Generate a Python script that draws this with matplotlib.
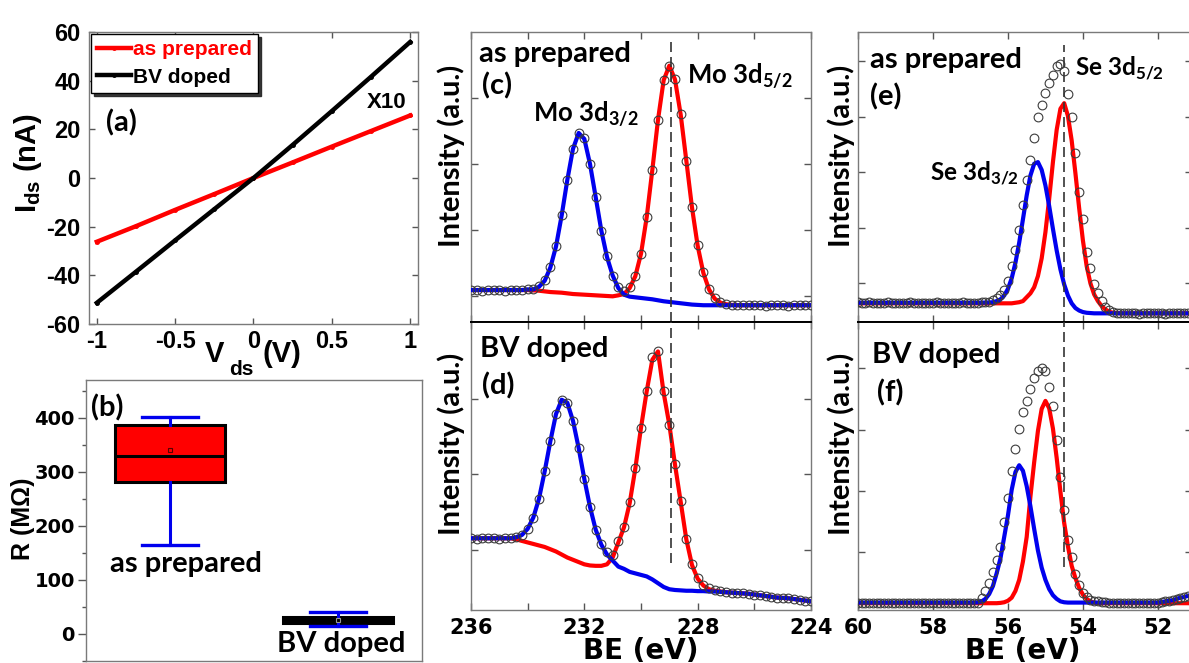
import numpy as np
import matplotlib
matplotlib.use('Agg')
import matplotlib.pyplot as plt
from matplotlib.ticker import MultipleLocator

plt.rcParams['font.family'] = ['Liberation Sans', 'DejaVu Sans']
plt.rcParams['font.weight'] = 'bold'
plt.rcParams['axes.unicode_minus'] = False
plt.rcParams['mathtext.fontset'] = 'custom'
plt.rcParams['mathtext.bf'] = 'Liberation Sans:bold'
plt.rcParams['mathtext.rm'] = 'Lato:bold'

# ---- (a) I-V curves (as prepared shown x10) ----
v_ds = [-1, -0.75, -0.5, -0.25, 0, 0.25, 0.5, 0.75, 1]
i_prepared = [-26.2, -19.8, -13.1, -6.6, 0.0, 6.4, 12.9, 19.3, 25.7]
i_doped = [-51.3, -38.5, -25.6, -12.8, 0.0, 13.6, 27.5, 41.6, 55.9]
v_ticks = [-1, -0.5, 0, 0.5, 1]
v_ticklabels = ['-1', '-0.5', '0', '0.5', '1']
i_ticks = [-60, -40, -20, 0, 20, 40, 60]

# ---- (b) resistance box plot ----
samples = ['as prepared', 'BV doped']
r_q1 = [281, 21]
r_med = [330, 26]
r_q3 = [387, 31]
r_low = [165, 15]
r_high = [402, 41]
r_mean = [341, 25]
r_ticks = [0, 100, 200, 300, 400]

# ---- (c),(d) Mo 3d spectra, BE grid 236 -> 224 eV ----
be_mo = np.round(np.arange(236.0, 223.9, -0.2), 1)
mo_ticks = [236, 234, 232, 230, 228, 226, 224]
mo_ticklabels = ['236', '', '232', '', '228', '', '224']

mo_c_data = [1.09, 1.09, 1.08, 1.09, 1.09, 1.09, 1.08, 1.09, 1.09, 1.09,
             1.10, 1.11, 1.15, 1.24, 1.44, 1.76, 2.22, 2.76, 3.22, 3.47,
             3.39, 3.00, 2.50, 1.99, 1.60, 1.31, 1.13, 1.07, 1.14, 1.31,
             1.64, 2.19, 2.91, 3.67, 4.27, 4.49, 4.29, 3.76, 3.05, 2.35,
             1.77, 1.36, 1.11, 0.97, 0.91, 0.88, 0.87, 0.86, 0.86, 0.86,
             0.86, 0.86, 0.85, 0.86, 0.86, 0.86, 0.85, 0.86, 0.86, 0.86,
             0.86]
mo_c_blue = [1.09, 1.09, 1.09, 1.09, 1.09, 1.09, 1.09, 1.09, 1.09, 1.09,
             1.10, 1.10, 1.14, 1.23, 1.43, 1.75, 2.22, 2.76, 3.23, 3.47,
             3.38, 3.00, 2.50, 1.99, 1.59, 1.31, 1.12, 1.02, 0.99, 0.98,
             0.97, 0.96, 0.95, 0.935, 0.92, 0.91, 0.90, 0.89, 0.88, 0.87,
             0.865, 0.86, 0.86, 0.86, 0.86, 0.86, 0.86, 0.86, 0.86, 0.86,
             0.86, 0.86, 0.86, 0.86, 0.86, 0.86, 0.86, 0.86, 0.86, 0.86,
             0.86]
mo_c_red = [1.09, 1.09, 1.09, 1.09, 1.09, 1.09, 1.09, 1.09, 1.09, 1.09,
            1.09, 1.085, 1.08, 1.07, 1.06, 1.055, 1.05, 1.04, 1.03, 1.025,
            1.02, 1.015, 1.01, 1.005, 1.00, 0.995, 1.01, 1.03, 1.12, 1.30,
            1.64, 2.19, 2.91, 3.67, 4.27, 4.49, 4.28, 3.75, 3.05, 2.34,
            1.76, 1.35, 1.10, 0.96, 0.90, 0.875, 0.865, 0.86, 0.86, 0.86,
            0.86, 0.86, 0.86, 0.86, 0.86, 0.86, 0.86, 0.86, 0.86, 0.86,
            0.86]

mo_d_data = [1.155, 1.15, 1.155, 1.16, 1.155, 1.15, 1.155, 1.16, 1.17, 1.20,
             1.28, 1.43, 1.68, 2.04, 2.44, 2.80, 2.99, 2.95, 2.71, 2.35,
             1.94, 1.57, 1.27, 1.08, 0.97, 0.94, 1.12, 1.31, 1.63, 2.08,
             2.62, 3.10, 3.55, 3.64, 3.10, 2.66, 2.14, 1.65, 1.15, 0.82,
             0.63, 0.54, 0.49, 0.47, 0.455, 0.445, 0.435, 0.43, 0.425, 0.42,
             0.41, 0.40, 0.39, 0.38, 0.37, 0.365, 0.36, 0.35, 0.34, 0.33,
             0.32]
mo_d_blue = [1.155, 1.155, 1.155, 1.155, 1.155, 1.155, 1.155, 1.155, 1.17, 1.20,
             1.28, 1.43, 1.68, 2.04, 2.44, 2.80, 2.99, 2.95, 2.71, 2.35,
             1.94, 1.57, 1.27, 1.07, 0.94, 0.86, 0.78, 0.75, 0.71, 0.69,
             0.67, 0.65, 0.61, 0.56, 0.51, 0.48, 0.47, 0.465, 0.46, 0.46,
             0.455, 0.455, 0.45, 0.45, 0.445, 0.44, 0.435, 0.43, 0.425, 0.42,
             0.41, 0.40, 0.39, 0.38, 0.37, 0.365, 0.36, 0.35, 0.34, 0.33,
             0.32]
mo_d_red = [1.155, 1.155, 1.155, 1.155, 1.155, 1.155, 1.155, 1.155, 1.14, 1.12,
            1.10, 1.08, 1.06, 1.04, 1.01, 0.98, 0.94, 0.90, 0.87, 0.84,
            0.81, 0.795, 0.79, 0.79, 0.81, 0.90, 1.10, 1.30, 1.62, 2.08,
            2.62, 3.10, 3.52, 3.63, 3.08, 2.66, 2.13, 1.64, 1.14, 0.80,
            0.62, 0.53, 0.48, 0.46, 0.45, 0.44, 0.435, 0.43, 0.425, 0.42,
            0.41, 0.40, 0.39, 0.38, 0.37, 0.365, 0.36, 0.35, 0.34, 0.33,
            0.32]
mo_line = 228.95

# ---- (e),(f) Se 3d spectra, BE grid 60 -> 51.2 eV ----
be_se = np.round(np.arange(60.0, 51.15, -0.1), 1)
se_ticks = [60, 58, 56, 54, 52]
se_ticklabels = ['60', '58', '56', '54', '52']

se_e_data = [0.66, 0.65, 0.65, 0.66, 0.65, 0.64, 0.65, 0.65, 0.66, 0.65,
             0.65, 0.64, 0.65, 0.65, 0.66, 0.65, 0.65, 0.64, 0.65, 0.65,
             0.65, 0.66, 0.65, 0.65, 0.64, 0.65, 0.65, 0.65, 0.66, 0.65,
             0.65, 0.65, 0.65, 0.66, 0.66, 0.67, 0.70, 0.74, 0.79, 0.88,
             1.04, 1.32, 1.60, 1.95, 2.40, 2.86, 3.21, 3.62, 3.99, 4.21,
             4.43, 4.61, 4.74, 4.90, 4.94, 4.81, 4.40, 4.00, 3.35, 2.65,
             2.15, 1.56, 1.27, 0.99, 0.82, 0.68, 0.58, 0.52, 0.49, 0.47,
             0.46, 0.46, 0.47, 0.46, 0.46, 0.45, 0.46, 0.46, 0.46, 0.47,
             0.46, 0.46, 0.45, 0.46, 0.46, 0.46, 0.47, 0.46, 0.46]
se_e_blue = [0.65, 0.65, 0.65, 0.65, 0.65, 0.65, 0.65, 0.65, 0.65, 0.65,
             0.65, 0.65, 0.65, 0.65, 0.65, 0.65, 0.65, 0.65, 0.65, 0.65,
             0.65, 0.65, 0.65, 0.65, 0.65, 0.65, 0.65, 0.65, 0.65, 0.65,
             0.65, 0.65, 0.65, 0.65, 0.655, 0.655, 0.66, 0.68, 0.71, 0.78,
             0.90, 1.09, 1.37, 1.73, 2.15, 2.58, 2.94, 3.15, 3.18, 3.04,
             2.76, 2.39, 1.98, 1.59, 1.25, 0.98, 0.78, 0.64, 0.555, 0.51,
             0.483, 0.47, 0.465, 0.46, 0.46, 0.46, 0.46, 0.46, 0.46, 0.46,
             0.46, 0.46, 0.46, 0.46, 0.46, 0.46, 0.46, 0.46, 0.46, 0.46,
             0.46, 0.46, 0.46, 0.46, 0.46, 0.46, 0.46, 0.46, 0.46]
se_e_red = [0.64, 0.64, 0.64, 0.64, 0.64, 0.64, 0.64, 0.64, 0.64, 0.64,
            0.64, 0.64, 0.64, 0.64, 0.64, 0.64, 0.64, 0.64, 0.64, 0.64,
            0.64, 0.64, 0.64, 0.64, 0.64, 0.64, 0.64, 0.64, 0.64, 0.64,
            0.64, 0.64, 0.64, 0.64, 0.64, 0.64, 0.64, 0.64, 0.64, 0.64,
            0.64, 0.64, 0.65, 0.66, 0.68, 0.75, 0.82, 0.93, 1.13, 1.45,
            1.92, 2.52, 3.18, 3.76, 4.14, 4.24, 4.01, 3.57, 2.98, 2.35,
            1.77, 1.31, 1.00, 0.80, 0.68, 0.59, 0.53, 0.49, 0.47, 0.465,
            0.46, 0.46, 0.46, 0.46, 0.46, 0.46, 0.46, 0.46, 0.46, 0.46,
            0.46, 0.46, 0.46, 0.46, 0.46, 0.46, 0.46, 0.46, 0.46]

se_f_data = [0.18, 0.17, 0.18, 0.18, 0.17, 0.18, 0.18, 0.17, 0.18, 0.18,
             0.17, 0.18, 0.18, 0.18, 0.17, 0.18, 0.18, 0.18, 0.17, 0.18,
             0.18, 0.18, 0.17, 0.18, 0.18, 0.18, 0.17, 0.18, 0.18, 0.18,
             0.18, 0.18, 0.18, 0.25, 0.37, 0.50, 0.68, 0.87, 1.09, 1.49,
             1.88, 2.33, 2.68, 3.01, 3.29, 3.47, 3.67, 3.84, 3.96, 4.01,
             3.96, 3.69, 3.38, 2.83, 2.23, 1.69, 1.20, 0.93, 0.64, 0.47,
             0.34, 0.27, 0.23, 0.21, 0.20, 0.19, 0.19, 0.18, 0.18, 0.18,
             0.18, 0.17, 0.18, 0.18, 0.18, 0.17, 0.18, 0.18, 0.18, 0.18,
             0.18, 0.19, 0.20, 0.21, 0.22, 0.24, 0.26, 0.27, 0.29]
se_f_blue = [0.18, 0.18, 0.18, 0.18, 0.18, 0.18, 0.18, 0.18, 0.18, 0.18,
             0.18, 0.18, 0.18, 0.18, 0.18, 0.18, 0.18, 0.18, 0.18, 0.18,
             0.18, 0.18, 0.18, 0.18, 0.18, 0.18, 0.18, 0.18, 0.18, 0.18,
             0.18, 0.18, 0.185, 0.20, 0.24, 0.32, 0.45, 0.66, 0.90, 1.25,
             1.60, 2.02, 2.31, 2.42, 2.33, 2.08, 1.75, 1.38, 1.03, 0.75,
             0.55, 0.40, 0.30, 0.24, 0.20, 0.185, 0.18, 0.18, 0.18, 0.18,
             0.18, 0.18, 0.18, 0.18, 0.18, 0.18, 0.18, 0.18, 0.18, 0.18,
             0.18, 0.18, 0.18, 0.18, 0.18, 0.18, 0.18, 0.18, 0.18, 0.18,
             0.18, 0.19, 0.20, 0.21, 0.22, 0.24, 0.26, 0.27, 0.29]
se_f_red = [0.17, 0.17, 0.17, 0.17, 0.17, 0.17, 0.17, 0.17, 0.17, 0.17,
            0.17, 0.17, 0.17, 0.17, 0.17, 0.17, 0.17, 0.17, 0.17, 0.17,
            0.17, 0.17, 0.17, 0.17, 0.17, 0.17, 0.17, 0.17, 0.17, 0.17,
            0.17, 0.17, 0.17, 0.17, 0.17, 0.17, 0.17, 0.17, 0.175, 0.185,
            0.21, 0.26, 0.37, 0.55, 0.85, 1.25, 1.91, 2.47, 2.98, 3.34,
            3.47, 3.35, 3.02, 2.54, 1.99, 1.48, 1.10, 0.78, 0.58, 0.42,
            0.31, 0.24, 0.20, 0.18, 0.17, 0.17, 0.17, 0.17, 0.17, 0.17,
            0.17, 0.17, 0.17, 0.17, 0.17, 0.17, 0.17, 0.17, 0.17, 0.17,
            0.17, 0.17, 0.17, 0.17, 0.17, 0.17, 0.17, 0.17, 0.17]
se_line = 54.50

RED = '#ff0000'
BLUE = '#0000ee'
SPINE = '#7a7a7a'
W, H = 1189, 663


def px_axes(left, top, right, bottom):
    return [left / W, 1 - bottom / H, (right - left) / W, (bottom - top) / H]


def style_spines(ax):
    for s in ax.spines.values():
        s.set_color(SPINE)
        s.set_linewidth(1.0)


def lato(ax, x, y, s, size=21, **kw):
    ax.text(x, y, s, transform=ax.transAxes, fontfamily='Lato',
            fontweight='bold', fontsize=size, va='baseline', **kw)


def xps(ax, be, data, red, blue):
    ax.plot(be, red, color=RED, lw=3.0, zorder=2)
    ax.plot(be, blue, color=BLUE, lw=3.0, zorder=3)
    ax.plot(be, data, 'o', ms=6.3, mfc='none', mec='#3c3c3c', mew=0.8, zorder=4)
    ax.tick_params(direction='in', top=True, right=True, length=5, width=1,
                   color='#555555', pad=6)
    style_spines(ax)


def dejavu_labels(labels, size):
    for lab in labels:
        lab.set_fontfamily('DejaVu Sans')
        lab.set_fontweight('bold')
        lab.set_fontsize(size)


fig = plt.figure(figsize=(11.89, 6.63), dpi=100)

# ---------------- (a) ----------------
ax_a = fig.add_axes(px_axes(89, 32, 418, 324))
ax_a.plot(v_ds, i_prepared, color=RED, lw=3.2, marker='.', ms=5, label='as prepared')
ax_a.plot(v_ds, i_doped, color='black', lw=3.2, marker='.', ms=5, label='BV doped')
ax_a.set_xlim(-1.05, 1.05)
ax_a.set_ylim(-60, 60)
ax_a.set_xticks(v_ticks, labels=v_ticklabels)
ax_a.set_yticks(i_ticks)
ax_a.tick_params(direction='in', top=True, right=True, length=4, width=1,
                 color='#555555', labelsize=17)
ax_a.tick_params(axis='x', pad=4)
ax_a.tick_params(axis='y', pad=6)
style_spines(ax_a)
leg = ax_a.legend(loc='upper left', bbox_to_anchor=(0.0, 1.0), borderaxespad=0.1,
                  fontsize=15, handlelength=1.6, handletextpad=0.12,
                  labelspacing=0.4, borderpad=0.3, fancybox=False,
                  edgecolor='black', framealpha=1,
                  shadow={'color': '#222222', 'alpha': 0.9, 'ox': 2, 'oy': -2})
leg.get_frame().set_linewidth(1.0)
leg.get_texts()[0].set_color(RED)
ax_a.text(0.845, 0.739, 'X10', transform=ax_a.transAxes, fontsize=16, va='baseline')
lato(ax_a, 0.052, 0.659, '(a)')
ax_a.text(-0.185, 0.551, r'$\mathbf{I}_{\mathbf{ds}}$ (nA)', transform=ax_a.transAxes,
          rotation=90, ha='center', va='center', fontsize=21)
# x label split as in the source: V, lowered "ds", then (V)
ax_a.text((205 - 89) / 329, (324 - 362) / 292, 'V', transform=ax_a.transAxes,
          va='baseline', fontsize=21)
ax_a.text((229 - 89) / 329, (324 - 375) / 292, 'ds', transform=ax_a.transAxes,
          va='baseline', fontsize=15)
ax_a.text((263 - 89) / 329, (324 - 362) / 292, '(V)', transform=ax_a.transAxes,
          va='baseline', fontsize=21)

# ---------------- (b) ----------------
ax_b = fig.add_axes(px_axes(86, 380, 422, 661))
stats = []
for i in range(len(samples)):
    stats.append(dict(label=samples[i], q1=r_q1[i], med=r_med[i], q3=r_q3[i],
                      whislo=r_low[i], whishi=r_high[i], mean=r_mean[i], fliers=[]))
bp = ax_b.bxp(stats, positions=[1, 2], widths=0.65, capwidths=0.33,
              patch_artist=True, showmeans=True, manage_ticks=False,
              boxprops=dict(edgecolor='black', linewidth=2.2),
              medianprops=dict(color='black', linewidth=2.2),
              whiskerprops=dict(color=BLUE, linewidth=2.2),
              capprops=dict(color=BLUE, linewidth=2.4),
              meanprops=dict(marker='s', markersize=3, markerfacecolor='none',
                             markeredgecolor='#550000', markeredgewidth=0.8))
bp['boxes'][0].set_facecolor(RED)
bp['boxes'][1].set_facecolor('black')
bp['means'][1].set_markeredgecolor('#999999')
ax_b.set_xlim(0.5, 2.5)
ax_b.set_ylim(-50, 470)
ax_b.set_xticks([])
ax_b.set_yticks(r_ticks)
ax_b.yaxis.set_minor_locator(MultipleLocator(50))
ax_b.tick_params(axis='y', which='major', direction='out', length=6, width=1,
                 color='#555555', pad=2)
ax_b.tick_params(axis='y', which='minor', direction='out', length=3, width=1,
                 color='#555555')
dejavu_labels(ax_b.get_yticklabels(), 14)
style_spines(ax_b)
lato(ax_b, 0.015, 0.869, '(b)')
lato(ax_b, 0.071, 0.318, samples[0])
lato(ax_b, 0.568, 0.033, samples[1])
ax_b.text(-0.1875, 0.505, 'R (MΩ)', transform=ax_b.transAxes, rotation=90,
          ha='center', va='center', fontsize=18)

# ---------------- (c) / (d) ----------------
ax_c = fig.add_axes(px_axes(471, 32, 811, 322))
ax_d = fig.add_axes(px_axes(471, 322, 811, 610))
xps(ax_c, be_mo, mo_c_data, mo_c_red, mo_c_blue)
xps(ax_d, be_mo, mo_d_data, mo_d_red, mo_d_blue)
for ax, lims, yt in ((ax_c, (0.606, 5.0), [1, 2, 3, 4]), (ax_d, (0.205, 4.02), [1, 2, 3])):
    ax.set_xlim(236, 224)
    ax.set_ylim(*lims)
    ax.set_yticks(yt)
    ax.set_yticklabels([])
    ax.set_xticks(mo_ticks, labels=mo_ticklabels)
ax_c.set_xticklabels([])
dejavu_labels(ax_d.get_xticklabels(), 15)
ax_c.spines['bottom'].set_color('black')
ax_c.spines['bottom'].set_linewidth(1.4)
ax_d.spines['top'].set_color('black')
ax_d.spines['top'].set_linewidth(1.4)
ax_c.axvline(mo_line, ymin=0.0, ymax=0.97, color='#333333', lw=1.2, ls=(0, (6, 3)), zorder=5)
ax_d.axvline(mo_line, ymin=0.163, ymax=1.0, color='#333333', lw=1.2, ls=(0, (6, 3)), zorder=5)
lato(ax_c, 0.024, 0.897, 'as prepared')
lato(ax_c, 0.032, 0.783, '(c)')
lato(ax_c, 0.182, 0.69, r'Mo 3d$_{\mathrm{3/2}}$', size=18.5)
lato(ax_c, 0.635, 0.823, r'Mo 3d$_{\mathrm{5/2}}$', size=18.5)
lato(ax_d, 0.026, 0.88, 'BV doped')
lato(ax_d, 0.032, 0.747, '(d)')
for ax, y in ((ax_c, 0.572), (ax_d, 0.576)):
    ax.text(-0.059, y, 'Intensity (a.u.)', transform=ax.transAxes, rotation=90,
            ha='center', va='center', fontfamily='Lato', fontweight='bold', fontsize=21)
ax_d.text(0.5, -0.17, 'BE (eV)', transform=ax_d.transAxes, ha='center',
          va='baseline', fontsize=20, fontfamily='DejaVu Sans', fontweight='bold')

# ---------------- (e) / (f) ----------------
ax_e = fig.add_axes(px_axes(858, 32, 1192, 322))
ax_f = fig.add_axes(px_axes(858, 322, 1192, 610))
xps(ax_e, be_se, se_e_data, se_e_red, se_e_blue)
xps(ax_f, be_se, se_f_data, se_f_red, se_f_blue)
for ax, lims, yt in ((ax_e, (0.304, 5.52), [1, 2, 3, 4, 5]), (ax_f, (0.059, 4.757), [1, 2, 3, 4])):
    ax.set_xlim(60, 51.09)
    ax.set_ylim(*lims)
    ax.set_yticks(yt)
    ax.set_yticklabels([])
    ax.set_xticks(se_ticks, labels=se_ticklabels)
ax_e.set_xticklabels([])
dejavu_labels(ax_f.get_xticklabels(), 15)
ax_e.spines['bottom'].set_color('black')
ax_e.spines['bottom'].set_linewidth(1.4)
ax_f.spines['top'].set_color('black')
ax_f.spines['top'].set_linewidth(1.4)
ax_e.axvline(se_line, ymin=0.0, ymax=0.955, color='#333333', lw=1.2, ls=(0, (6, 3)), zorder=5)
ax_f.axvline(se_line, ymin=0.149, ymax=1.0, color='#333333', lw=1.2, ls=(0, (6, 3)), zorder=5)
lato(ax_e, 0.036, 0.875, 'as prepared')
lato(ax_e, 0.036, 0.748, '(e)')
lato(ax_e, 0.65, 0.852, r'Se 3d$_{\mathrm{5/2}}$', size=17.5)
lato(ax_e, 0.216, 0.49, r'Se 3d$_{\mathrm{3/2}}$', size=17.5)
lato(ax_f, 0.042, 0.859, 'BV doped')
lato(ax_f, 0.057, 0.723, '(f)')
for ax, y in ((ax_e, 0.572), (ax_f, 0.576)):
    ax.text(-0.051, y, 'Intensity (a.u.)', transform=ax.transAxes, rotation=90,
            ha='center', va='center', fontfamily='Lato', fontweight='bold', fontsize=21)
ax_f.text(0.494, -0.17, 'BE (eV)', transform=ax_f.transAxes, ha='center',
          va='baseline', fontsize=20, fontfamily='DejaVu Sans', fontweight='bold')

fig.savefig('out.png', dpi=100)
